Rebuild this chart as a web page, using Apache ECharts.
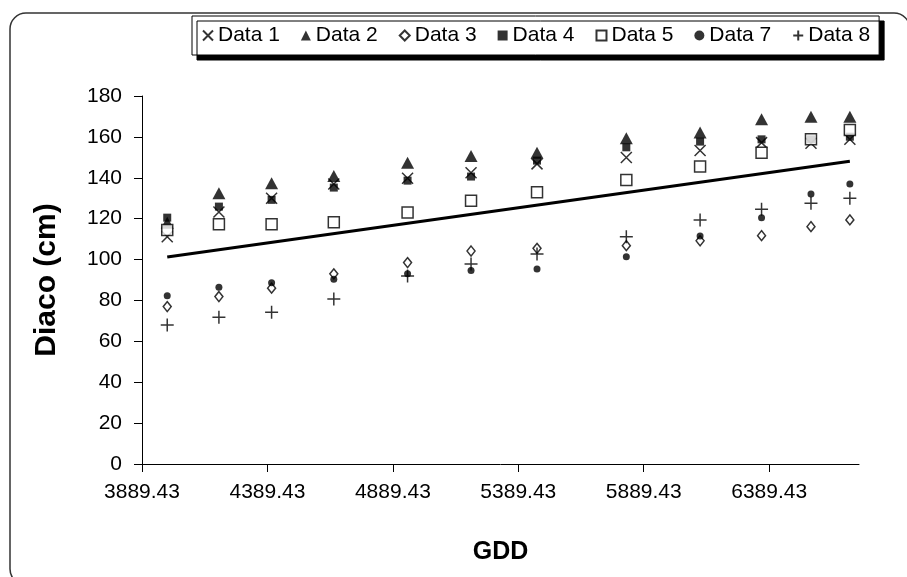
<!DOCTYPE html>
<html>
<head>
<meta charset="utf-8">
<title>Diaco vs GDD</title>
<script src="https://cdn.jsdelivr.net/npm/echarts@6/dist/echarts.min.js"></script>
<style>
    html, body { margin: 0; padding: 0; background: #fff; }
    #main { width: 907px; height: 577px; }
</style>
</head>
<body>
<div id="main"></div>
<script>
// x 轴: GDD
var gdd = [3990, 4196, 4406, 4654, 4948, 5201, 5464, 5820, 6114, 6359, 6556, 6711];
// 各组数据 (Diaco, cm)
var data1 = [111.2, 123.3, 130, 137, 139.8, 142.5, 146.8, 149.9, 153.3, 157.2, 156.9, 158.8];
var data2 = [118, 132.4, 137.3, 140.9, 147.4, 150.7, 152.3, 159.3, 162.1, 168.6, 169.9, 169.9];
var data3 = [77, 81.9, 86, 93, 98.5, 104.2, 105.5, 106.8, 109.2, 111.7, 116.1, 119.4];
var data4 = [120.5, 125.9, 129.2, 135.2, 138.6, 140.6, 148.4, 154.9, 157.7, 158.8, 158.8, 160.1];
var data5 = [114.5, 117.3, 117.3, 118.2, 123, 128.8, 132.9, 138.9, 145.5, 152.3, 158.8, 163.4];
var data7 = [82.3, 86.4, 88.7, 90.4, 93.1, 94.6, 95.4, 101.4, 111.5, 120.5, 132.1, 137];
var data8 = [68, 71.8, 74.2, 80.7, 92, 97.8, 102.7, 111.2, 119.4, 124.6, 127.5, 130];
var names = ["Data 1", "Data 2", "Data 3", "Data 4", "Data 5", "Data 7", "Data 8"];
var xTicks = [3889.43, 4389.43, 4889.43, 5389.43, 5889.43, 6389.43];

var allSets = [data1, data2, data3, data4, data5, data7, data8];

function pairs(ys) {
    return ys.map(function (y, i) { return [gdd[i], y]; });
}

// 线性趋势线 (所有点的最小二乘)
var n = 0, sx = 0, sy = 0, sxx = 0, sxy = 0;
allSets.forEach(function (ys) {
    ys.forEach(function (y, i) {
        var x = gdd[i];
        n++; sx += x; sy += y; sxx += x * x; sxy += x * y;
    });
});
var slope = (n * sxy - sx * sy) / (n * sxx - sx * sx);
var icpt = (sy - slope * sx) / n;
var x0 = Math.min.apply(null, gdd), x1 = Math.max.apply(null, gdd);
var trend = [[x0, icpt + slope * x0], [x1, icpt + slope * x1]];

var font = "'Liberation Sans', Arial, sans-serif";
var openStyle = { color: "#fff", borderColor: "#000", borderWidth: 1.5 };
var lineStyle = { color: "transparent", borderColor: "#000", borderWidth: 1.5 };

var myChart = echarts.init(document.getElementById('main'));
var option = {
    backgroundColor: "#fff",
    animation: false,
    // 外框 (圆角)
    graphic: [{
        type: "rect",
        z: -1,
        shape: { x: 10, y: 13, width: 900, height: 572, r: 16 },
        style: { fill: "none", stroke: "#333", lineWidth: 1.5 }
    }],
    // 图例
    legend: {
        data: names,
        left: 192,
        top: 16,
        padding: [9, 9, 9, 10],
        itemGap: 21,
        itemWidth: 10,
        itemHeight: 10,
        backgroundColor: "#fff",
        borderColor: "#000",
        borderWidth: 1,
        borderRadius: 0,
        shadowColor: "#000",
        shadowBlur: 0,
        shadowOffsetX: 5,
        shadowOffsetY: 5,
        textStyle: { color: "#000", fontSize: 21, fontFamily: font }
    },
    grid: { left: 142, right: 48, top: 96, bottom: 113 },
    xAxis: {
        type: "value",
        name: "GDD",
        nameLocation: "middle",
        nameGap: 76,
        nameTextStyle: { color: "#000", fontSize: 25, fontWeight: "bold", fontFamily: font },
        min: xTicks[0],
        max: 6747.43,
        interval: 500,
        axisLine: { lineStyle: { color: "#000", width: 1 } },
        axisTick: { inside: false, length: 8, lineStyle: { color: "#000" } },
        axisLabel: {
            color: "#000", fontSize: 21, fontFamily: font, margin: 18,
            showMaxLabel: false,
            formatter: function (v) { return v.toFixed(2); }
        },
        splitLine: { show: false }
    },
    yAxis: {
        type: "value",
        name: "Diaco (cm)",
        nameLocation: "middle",
        nameGap: 80,
        nameTextStyle: { color: "#000", fontSize: 30, fontWeight: "bold", fontFamily: font },
        min: 0,
        max: 180,
        interval: 20,
        axisLine: { show: true, lineStyle: { color: "#000", width: 1 } },
        axisTick: { show: true, length: 8, lineStyle: { color: "#000" } },
        axisLabel: { color: "#000", fontSize: 21, fontFamily: font, margin: 20 },
        splitLine: { show: false }
    },
    series: [{
        name: "Data 1", type: "scatter",
        symbol: "path://M0,0L10,10M10,0L0,10", symbolSize: 11,
        itemStyle: lineStyle,
        data: pairs(data1)
    }, {
        name: "Data 2", type: "scatter",
        symbol: "triangle", symbolSize: [13, 12],
        itemStyle: { color: "#000" },
        data: pairs(data2)
    }, {
        name: "Data 3", type: "scatter",
        symbol: "diamond", symbolSize: [8, 10],
        itemStyle: openStyle,
        data: pairs(data3)
    }, {
        name: "Data 4", type: "scatter",
        symbol: "rect", symbolSize: 8,
        itemStyle: { color: "#000" },
        data: pairs(data4)
    }, {
        name: "Data 5", type: "scatter",
        symbol: "rect", symbolSize: 11,
        itemStyle: openStyle,
        data: pairs(data5)
    }, {
        name: "Data 7", type: "scatter",
        symbol: "circle", symbolSize: 7,
        itemStyle: { color: "#000" },
        data: pairs(data7)
    }, {
        name: "Data 8", type: "scatter",
        symbol: "path://M5,0L5,10M0,5L10,5", symbolSize: 13,
        itemStyle: lineStyle,
        data: pairs(data8)
    }, {
        // 趋势线
        name: "Trend", type: "line",
        showSymbol: false,
        silent: true,
        lineStyle: { color: "#000", width: 3 },
        data: trend
    }]
};

myChart.setOption(option);
</script>
</body>
</html>
